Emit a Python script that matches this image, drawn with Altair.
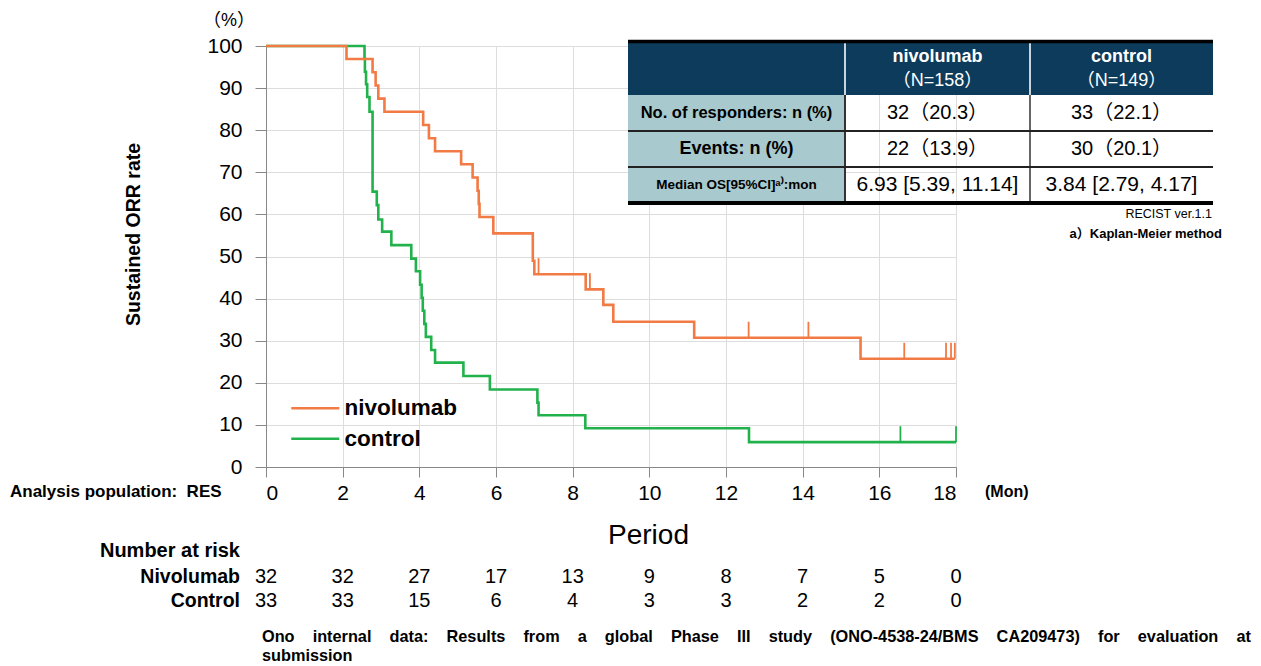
import altair as alt
import pandas as pd

# ---------------- data ----------------
arms = ["nivolumab", "control"]

niv_month = [0, 2.10, 2.78, 2.86, 2.93, 3.09, 4.10, 4.25, 4.41, 5.09, 5.39, 5.52, 5.55, 5.57,
             5.93, 6.96, 7.00, 8.34, 8.80, 9.06, 11.17, 15.51, 17.97]
niv_pct = [100, 96.9, 93.75, 90.6, 87.5, 84.4, 81.25, 78.1, 75.0, 71.9, 68.75, 65.6, 62.5, 59.4,
           55.5, 49.0, 45.8, 42.2, 38.5, 34.5, 30.7, 25.7, 25.7]
niv_cens_month = [7.11, 8.45, 12.59, 14.15, 16.65, 17.74, 17.87, 17.97]
niv_cens_pct = [45.8, 42.2, 30.7, 30.7, 25.7, 25.7, 25.7, 25.7]

ctl_month = [0, 2.57, 2.58, 2.61, 2.64, 2.70, 2.78, 2.89, 2.93, 3.03, 3.27, 3.79, 3.91, 4.02,
             4.06, 4.09, 4.13, 4.17, 4.31, 4.41, 5.15, 5.84, 7.08, 7.11, 8.33, 12.60, 18.0]
ctl_pct = [100, 97.0, 93.9, 90.9, 87.9, 84.4, 65.4, 62.2, 58.8, 55.9, 52.7, 49.5, 46.5, 43.3,
           40.2, 37.1, 34.0, 30.9, 27.8, 24.8, 21.6, 18.4, 15.3, 12.3, 9.2, 5.9, 5.9]
ctl_cens_month = [16.55, 18.0]
ctl_cens_pct = [5.9, 5.9]

risk_month = [0, 2, 4, 6, 8, 10, 12, 14, 16, 18]
risk_niv = [32, 32, 27, 17, 13, 9, 8, 7, 5, 0]
risk_ctl = [33, 33, 15, 6, 4, 3, 3, 2, 2, 0]

y_ticks = [0, 10, 20, 30, 40, 50, 60, 70, 80, 90, 100]
x_ticks = [0, 2, 4, 6, 8, 10, 12, 14, 16, 18]

tbl_header = ["nivolumab\n（N=158）", "control\n（N=149）"]
tbl_rows = ["No. of responders: n (%)", "Events: n (%)", "Median OS[95%CI]ᵃ⁾:mon"]
tbl_niv = ["32（20.3）", "22（13.9）", "6.93 [5.39, 11.14]"]
tbl_ctl = ["33（22.1）", "30（20.1）", "3.84 [2.79, 4.17]"]

footnote_words = ["Ono", "internal", "data:", "Results", "from", "a", "global", "Phase", "III",
                  "study", "(ONO-4538-24/BMS", "CA209473)", "for", "evaluation", "at"]
footnote_line2 = "submission"

# ---------------- styling / layout ----------------
FONT = "Liberation Sans"
CJK = "Liberation Sans, Noto Sans CJK JP"
ORANGE = "#F27A45"
GREEN = "#22B24C"
X0, Y0 = 266, 46          # plot origin on the page
W, H = 690, 421
CANVAS_W, CANVAS_H = 1245, 656


def px(x):
    return x - X0


def py(y):
    return y - Y0


one = pd.DataFrame({"k": [0]})


def txt(s, x, y, size, weight="normal", color="black", align="center", font=FONT):
    return alt.Chart(one).mark_text(
        text=s, fontSize=size, fontWeight=weight, color=color, align=align,
        baseline="middle", font=font
    ).encode(x=alt.value(px(x)), y=alt.value(py(y)))


def rect(x0, x1, y0, y1, color):
    return alt.Chart(one).mark_rect(color=color).encode(
        x=alt.value(px(x0)), x2=alt.value(px(x1)), y=alt.value(py(y0)), y2=alt.value(py(y1)))


def hline(x0, x1, y, color, w):
    return alt.Chart(one).mark_rule(color=color, strokeWidth=w).encode(
        x=alt.value(px(x0)), x2=alt.value(px(x1)), y=alt.value(py(y)))


def vline(x, y0, y1, color, w):
    return alt.Chart(one).mark_rule(color=color, strokeWidth=w).encode(
        x=alt.value(px(x)), y=alt.value(py(y0)), y2=alt.value(py(y1)))


curves = pd.concat([
    pd.DataFrame({"month": ctl_month, "pct": ctl_pct, "arm": "control"}),
    pd.DataFrame({"month": niv_month, "pct": niv_pct, "arm": "nivolumab"}),
])
cens = pd.concat([
    pd.DataFrame({"month": ctl_cens_month, "pct": ctl_cens_pct, "arm": "control"}),
    pd.DataFrame({"month": niv_cens_month, "pct": niv_cens_pct, "arm": "nivolumab"}),
])

xscale = alt.Scale(domain=[0, 18], nice=False)
yscale = alt.Scale(domain=[0, 100], nice=False)
cscale = alt.Scale(domain=arms, range=[ORANGE, GREEN])

lines = alt.Chart(curves).mark_line(interpolate="step-after", strokeWidth=2.6).encode(
    x=alt.X("month:Q", scale=xscale, axis=alt.Axis(
        values=x_ticks, title="Period", titleFontSize=28, titleFontWeight="normal",
        titleX=px(648), titleY=68, titleAlign="center", titleBaseline="middle",
        labelFontSize=21, labelPadding=5, tickSize=10)),
    y=alt.Y("pct:Q", scale=yscale, axis=alt.Axis(
        values=y_ticks, title="Sustained ORR rate", titleFontSize=19.5, titleFontWeight="bold",
        titleX=-133, titleY=188, titleAngle=270, titleAlign="center", titleBaseline="middle",
        labelFontSize=21, labelPadding=13, tickSize=11)),
    color=alt.Color("arm:N", scale=cscale, legend=alt.Legend(
        orient="none", legendX=38, legendY=351, title=None, symbolType="M-4,0H4",
        symbolSize=144, symbolStrokeWidth=2.6, labelFontSize=22.5, labelFontWeight="bold",
        labelFont=FONT, labelColor="black", labelOffset=18, rowPadding=7.5)),
    order=alt.Order("month:Q"),
)

ticks = alt.Chart(cens).transform_calculate(top="datum.pct + 3.8").mark_rule(strokeWidth=1.8).encode(
    x="month:Q", y="pct:Q", y2="top:Q",
    color=alt.Color("arm:N", scale=cscale, legend=None),
)

risk = pd.DataFrame({"month": risk_month, "niv": risk_niv, "ctl": risk_ctl})
risk_n = alt.Chart(risk).mark_text(fontSize=20, font=FONT, color="black").encode(
    x="month:Q", y=alt.value(py(577)), text="niv:Q")
risk_c = alt.Chart(risk).mark_text(fontSize=20, font=FONT, color="black").encode(
    x="month:Q", y=alt.value(py(601)), text="ctl:Q")

# table
col_l, col_a, col_b, col_r = 628, 845, 1030, 1213
row_edges = [40, 95, 131, 167, 203]
table = [
    rect(col_l, col_r, row_edges[0], row_edges[1], "#0C3B5C"),
    rect(col_l, col_a, row_edges[1], row_edges[4], "#A8C9CD"),
    vline(col_a, row_edges[0] + 3, row_edges[1], "#C8D4DC", 2),
    vline(col_b, row_edges[0] + 3, row_edges[1], "#C8D4DC", 2),
    vline(col_a, row_edges[1], row_edges[4], "#333333", 2),
    vline(col_b, row_edges[1], row_edges[4], "#333333", 1.5),
    hline(col_l, col_r, row_edges[2], "#222222", 2),
    hline(col_l, col_r, row_edges[3], "#222222", 2),
    hline(col_l, col_r, row_edges[0] + 1.5, "#000000", 3.5),
    hline(col_l, col_r, row_edges[4], "#000000", 4),
]
hdr_cx = [(col_a + col_b) / 2, (col_b + col_r) / 2]
for i, h in enumerate(tbl_header):
    name, n = h.split("\n")
    table.append(txt(name, hdr_cx[i], 57, 18, "bold", "white", font=CJK))
    table.append(txt(n, hdr_cx[i], 81, 18, "normal", "white", font=CJK))
row_cy = [113, 149, 185]
row_fs = [16.5, 18, 13.5]
val_fs = [20, 20, 21]
for i, lab in enumerate(tbl_rows):
    table.append(txt(lab, (col_l + col_a) / 2, row_cy[i], row_fs[i], "bold", font=CJK))
    table.append(txt(tbl_niv[i], hdr_cx[0], row_cy[i], val_fs[i], font=CJK))
    table.append(txt(tbl_ctl[i], hdr_cx[1], row_cy[i], val_fs[i], font=CJK))

gap = " \u00a0\u00a0\u00a0"
footnote_line1 = gap.join(footnote_words)

notes = [
    txt("RECIST ver.1.1", 1212, 214, 12.5, align="right"),
    txt("a）Kaplan-Meier method", 1222, 234, 13, "bold", align="right", font=CJK),
    txt("（%）", 229, 21, 18, font=CJK),
    txt("Analysis population:\u00a0\u00a0RES", 10, 492, 17, "bold", align="left"),
    txt("(Mon)", 985, 492, 16, "bold", align="left"),
    txt("Number at risk", 240, 551, 20, "bold", align="right"),
    txt("Nivolumab", 240, 577, 19.5, "bold", align="right"),
    txt("Control", 240, 601, 19.5, "bold", align="right"),
    txt(footnote_line1, 262, 637, 16.3, "bold", align="left"),
    txt(footnote_line2, 262, 656, 16.3, "bold", align="left"),
]

chart = alt.layer(lines, ticks, risk_n, risk_c, *table, *notes).properties(
    width=W, height=H,
    padding={"left": X0 - 8, "top": Y0 - 8, "right": CANVAS_W - (X0 - 8) - W,
             "bottom": CANVAS_H - (Y0 - 8) - H},
    autosize=alt.AutoSizeParams(type="none"),
).configure_view(stroke=None).configure_axis(
    labelFont=FONT, titleFont=FONT, labelColor="black", titleColor="black",
    domainColor="#444444", tickColor="#444444", domainWidth=2, tickWidth=2, grid=False,
).configure(font=FONT)

chart.save("out.html", embed_options={"renderer": "svg", "actions": False})
